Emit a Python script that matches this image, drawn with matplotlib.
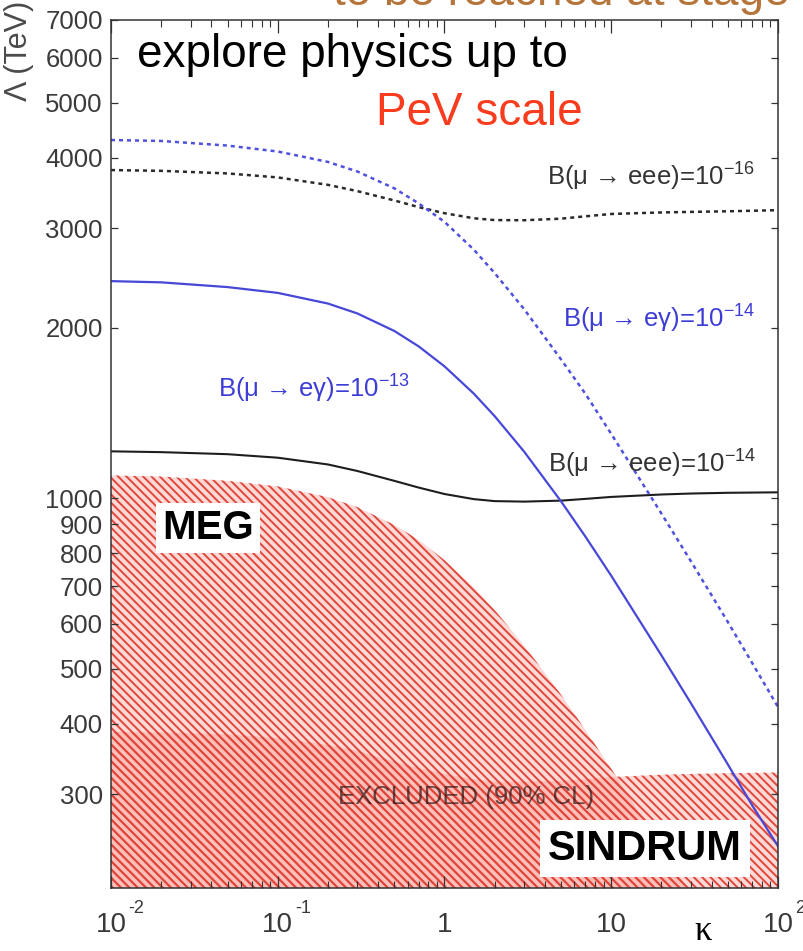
import matplotlib
matplotlib.use("Agg")
import matplotlib.pyplot as plt
from matplotlib.ticker import NullLocator
from matplotlib.transforms import ScaledTranslation

plt.rcParams.update({
    "font.family": ["Liberation Sans", "DejaVu Sans"],
    "mathtext.fontset": "custom",
    "mathtext.rm": "Liberation Sans",
    "mathtext.it": "Liberation Sans:italic",
    "mathtext.bf": "Liberation Sans:bold",
    "mathtext.default": "regular",
    "hatch.linewidth": 1.4,
})

# ---- sensitivity curves: Lambda (TeV) versus kappa ----
kappa = [0.01, 0.02, 0.05, 0.1, 0.2, 0.3, 0.5, 0.7, 1, 1.5,
         2, 3, 5, 7, 10, 20, 30, 50, 70, 100]

lam_eg13 = [2420, 2408, 2362, 2307, 2209, 2122, 1976, 1856, 1711, 1531,
            1397, 1210, 988, 856, 730, 528, 435, 339, 287, 243]

lam_eg14 = [4296, 4280, 4200, 4100, 3930, 3780, 3530, 3320, 3080, 2750,
            2500, 2160, 1760, 1530, 1300, 940, 775, 605, 512, 428]

lam_eee16 = [3802, 3790, 3750, 3690, 3580, 3490, 3360, 3270, 3190, 3125,
             3102, 3100, 3120, 3150, 3180, 3200, 3207, 3215, 3222, 3230]

lam_eee14 = [1211, 1207, 1197, 1180, 1148, 1118, 1074, 1045, 1018, 997,
             989, 987, 991, 998, 1006, 1016, 1020, 1023, 1024, 1025]

# ---- excluded regions (90% CL) ----
kappa_meg = [0.01, 0.02, 0.05, 0.1, 0.2, 0.3, 0.5, 0.7, 1, 1.5,
             2, 3, 5, 7, 10, 15, 20, 30, 40]
lam_meg = [1098, 1093, 1074, 1050, 1005, 965, 898, 845, 778, 696,
           635, 550, 450, 390, 333, 276, 242, 199, 173]

lam_sindrum = [387, 386, 383, 377, 367, 358, 343, 334, 326, 319,
               316, 316, 317, 319, 322, 325, 326, 327, 327.5, 328]

# ---- axis ticks ----
ytick_vals = [300, 400, 500, 600, 700, 800, 900, 1000, 2000, 3000, 4000, 5000, 6000, 7000]
xtick_vals = [0.01, 0.1, 1, 10, 100]
xtick_base = ["10", "10", "1", "10", "10"]
xtick_sup = ["-2", "-1", "", "", "2"]

W, H = 804, 951
fig = plt.figure(figsize=(W / 100, H / 100), dpi=100)
ax = fig.add_axes([111 / W, 1 - 888 / H, (778 - 111) / W, (888 - 20) / H])
ax.set_xscale("log")
ax.set_yscale("log")
ax.set_xlim(0.01, 100)
ax.set_ylim(205, 7000)

hatch_red = "#e0463a"
face = (0.98, 0.45, 0.40, 0.26)
ax.fill_between(kappa, 100, lam_sindrum, facecolor=face, edgecolor=hatch_red,
                hatch=r"\\\\", linewidth=0, zorder=1)
ax.fill_between(kappa_meg, 100, lam_meg, facecolor=face, edgecolor=hatch_red,
                hatch=r"\\\\", linewidth=0, zorder=1)

ax.text(1.346, 297, "EXCLUDED (90% CL)", fontsize=18.5, color="#301818",
        alpha=0.72, ha="center", va="center", zorder=2)

dash = (0, (1.6, 1.6))
ax.plot(kappa, lam_eee14, color="#1e1e1e", lw=1.5, zorder=3)
ax.plot(kappa, lam_eee16, color="#2a2a2a", lw=1.8, ls=dash, zorder=3)
ax.plot(kappa, lam_eg13, color="#4747d8", lw=1.6, zorder=3)
ax.plot(kappa, lam_eg14, color="#5050e0", lw=1.8, ls=dash, zorder=3)

lab_kw = dict(fontsize=18.5, ha="left", va="baseline", zorder=4)
ax.text(4.12, 3575, r"B(μ → eee)=10$^{-16}$", color="#333333", **lab_kw)
ax.text(5.14, 2006, r"B(μ → eγ)=10$^{-14}$", color="#3d3dd6", **lab_kw)
ax.text(0.0438, 1509, r"B(μ → eγ)=10$^{-13}$", color="#3d3dd6", **lab_kw)
ax.text(4.15, 1112, r"B(μ → eee)=10$^{-14}$", color="#333333", **lab_kw)

ax.text(0.0382, 885, "MEG", fontsize=29, fontweight="bold", color="black",
        ha="center", va="center", zorder=5,
        bbox=dict(boxstyle="square,pad=0.15", fc="white", ec="none"))
ax.text(15.9, 240.6, "SINDRUM", fontsize=30, fontweight="bold", color="black",
        ha="center", va="center", zorder=5,
        bbox=dict(boxstyle="square,pad=0.2", fc="white", ec="none"))

# frame and ticks
for sp in ax.spines.values():
    sp.set_color("#333333")
    sp.set_linewidth(1.1)
    sp.set_zorder(6)

ax.set_yticks(ytick_vals)
ax.set_yticklabels([str(v) for v in ytick_vals])
ax.yaxis.set_minor_locator(NullLocator())
ax.tick_params(axis="y", which="major", direction="in", length=5, width=0.9,
               left=True, right=True, labelsize=18.5, labelcolor="#3a3a3a",
               color="#333333", pad=6)

ax.set_xticks(xtick_vals)
ax.set_xticklabels([])
ax.tick_params(axis="x", which="major", direction="in", length=9, width=0.9,
               top=True, bottom=True, color="#333333")
ax.tick_params(axis="x", which="minor", direction="in", length=5, width=0.8,
               top=True, bottom=True, color="#333333")

xt = ax.get_xaxis_transform()
base_off = ScaledTranslation(0, -44 / 100, fig.dpi_scale_trans)
sup_off = ScaledTranslation(17 / 100, -25 / 100, fig.dpi_scale_trans)
for v, b, s in zip(xtick_vals, xtick_base, xtick_sup):
    ax.text(v, 0, b, transform=xt + base_off, ha="center", va="baseline",
            fontsize=20, color="#3a3a3a", clip_on=False)
    if s:
        ax.text(v, 0, s, transform=xt + sup_off, ha="left", va="baseline",
                fontsize=13, color="#3a3a3a", clip_on=False)

fig.text(19 / W, 1 - 101 / H, "Λ (TeV)", rotation=90, ha="center", va="bottom",
         fontsize=22, color="#4a4a4a")
fig.text(703 / W, 1 - 940 / H, "κ", family=["Liberation Serif", "DejaVu Serif"],
         fontsize=25, ha="center", va="baseline", color="black")

# slide annotations
fig.text(137 / W, 1 - 67 / H, "explore physics up to", fontsize=33, color="black",
         ha="left", va="baseline")
fig.text(583 / W, 1 - 125 / H, "PeV scale", fontsize=33, color="#fa3c1e",
         ha="right", va="baseline")
fig.text(790 / W, 1 - 5 / H, "to be reached at stage", fontsize=33, color="#b5743a",
         ha="right", va="baseline")

fig.savefig("out.png", dpi=100)
